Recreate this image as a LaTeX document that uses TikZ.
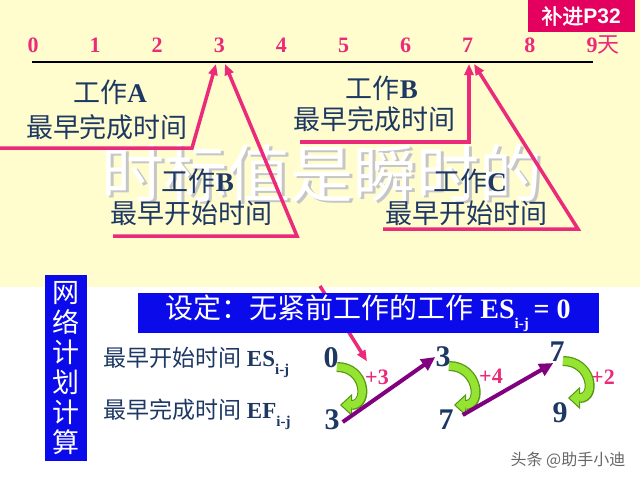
\documentclass[tikz,border=0pt]{standalone}
\usepackage{fontspec}
\setmainfont{Liberation Serif}
\newfontfamily\cjk{Noto Sans CJK SC}
\newfontfamily\cjkbold[FakeBold=2]{Noto Sans CJK SC}
\newfontfamily\tagsans{Liberation Sans}
\usetikzlibrary{arrows.meta,positioning}

\definecolor{paper}{RGB}{255,253,206}
\definecolor{rosy}{RGB}{236,42,122}
\definecolor{ink}{RGB}{30,56,100}
\definecolor{bannerblue}{RGB}{10,10,235}
\definecolor{tagred}{RGB}{228,0,94}
\definecolor{leaf}{RGB}{150,228,50}
\definecolor{leafdark}{RGB}{85,150,20}
\definecolor{grape}{RGB}{128,0,128}

\newcommand{\idx}[1]{\raisebox{-0.35em}{\fontsize{15}{15}\selectfont\bfseries #1}}

\tikzstyle{tick} = [text=rosy, inner sep=0, font=\fontsize{22}{24}\selectfont\bfseries]
\tikzstyle{note} = [text=ink, inner sep=0, font=\fontsize{27}{30}\selectfont]
\tikzstyle{rowtext} = [text=ink, inner sep=0, anchor=west, font=\fontsize{23}{26}\selectfont]
\tikzstyle{num} = [text=ink, inner sep=0, font=\fontsize{30}{32}\selectfont\bfseries]
\tikzstyle{plus} = [text=rosy, inner sep=0, font=\fontsize{22}{24}\selectfont\bfseries]
\tikzstyle{pinkline} = [draw=rosy, line width=3.5pt, -{Triangle[length=11pt,width=9pt]}]
\tikzstyle{purpleline} = [draw=grape, line width=4pt, -{Triangle[length=14pt,width=13pt]}]
\tikzstyle{leafout} = [draw=leafdark, line width=10pt, -{Triangle[length=12pt,width=22pt,fill=leaf,line width=1pt]}]
\tikzstyle{leafin} = [draw=leaf, line width=7.5pt, shorten >=11pt]

\begin{document}
\begin{tikzpicture}[x=1pt,y=-1pt]
\useasboundingbox (0,0) rectangle (640,479);
\fill[paper] (0,0) rectangle (640,287);

% watermark across the middle
\node[font=\cjk\fontsize{63}{63}\selectfont, text=gray!45] (shade) at (324.5,175.5) {时标值是瞬时的};
\node[font=\cjk\fontsize{63}{63}\selectfont, text=white] (mark) at (322,173) {时标值是瞬时的};

% tag
\node[fill=tagred, text=white, minimum width=107pt, minimum height=32pt, inner sep=0] (tag) at (581,16) {{\cjkbold\fontsize{21}{23}\selectfont 补进}{\tagsans\bfseries\fontsize{21}{23}\selectfont P32}};

% time axis
\coordinate (l0) at (32,62);
\coordinate (l9) at (593,62);
\draw[line width=2.5pt] (l0) -- (l9);
\foreach \i in {0,...,8}
  \node[tick] (t\i) at ({33+62.1*\i},45) {\i};
\node[tick] (t9) at (603,45) {9{\cjk\mdseries 天}};

% labels
\node[note] (fa) at (110,92) {{\cjk 工作}\textbf{A}};
\node[note, below of = fa, node distance=35pt, xshift=-3pt] (fa2) {\cjk 最早完成时间};
\node[note] (fb) at (382,88) {{\cjk 工作}\textbf{B}};
\node[note, below of = fb, node distance=31pt, xshift=-8pt] (fb2) {\cjk 最早完成时间};
\node[note] (sb) at (198,181) {{\cjk 工作}\textbf{B}};
\node[note, below of = sb, node distance=32pt, xshift=-7pt] (sb2) {\cjk 最早开始时间};
\node[note] (sc) at (470,181) {{\cjk 工作}\textbf{C}};
\node[note, below of = sc, node distance=32pt, xshift=-4pt] (sc2) {\cjk 最早开始时间};

% pink pointers to the axis
\coordinate (aS) at (0,148);   \coordinate (aK) at (192,148); \coordinate (aT) at (216,64);
\coordinate (bS) at (113,236); \coordinate (bK) at (297,236); \coordinate (bT) at (225,64);
\coordinate (cS) at (300,142); \coordinate (cK) at (469,142); \coordinate (cT) at (469,64);
\coordinate (dS) at (383,229); \coordinate (dK) at (578,229); \coordinate (dT) at (474,64);
\draw[pinkline] (aS) -- (aK) -- (aT);
\draw[pinkline] (bS) -- (bK) -- (bT);
\draw[pinkline] (cS) -- (cK) -- (cT);
\draw[pinkline] (dS) -- (dK) -- (dT);

% lower part
\node[plus] (p1) at (377,377) {+3};
\node[plus] (p2) at (491,376) {+4};
\node[plus] (p3) at (603,377) {+2};
\coordinate (hint) at (320,286);
\draw[pinkline] (hint) -- ([shift={(2,-8)}]p1.north west);

\node[fill=bannerblue, text=white, minimum width=42pt, minimum height=186pt, inner sep=0, align=center,
  font=\cjk\fontsize{27}{30}\selectfont] (side) at (66,368) {网\\络\\计\\划\\计\\算};
\node[fill=bannerblue, text=white, minimum width=461pt, minimum height=40pt, inner sep=0,
  font=\fontsize{28}{30}\selectfont] (rule) at (368,313)
  {{\cjk 设定：无紧前工作的工作} \textbf{ES}\idx{i-j}\,\textbf{= 0}};

\node[rowtext] (esrow) at (103,362) {{\cjk 最早开始时间} \textbf{ES}\idx{i-j}};
\node[rowtext] (efrow) at (103,414) {{\cjk 最早完成时间} \textbf{EF}\idx{i-j}};

\node[num] (es1) at (331,358) {0};
\node[num] (ef1) at (332,420) {3};
\node[num] (es2) at (443,357) {3};
\node[num] (ef2) at (446,420) {7};
\node[num] (es3) at (557,352) {7};
\node[num] (ef3) at (560,413) {9};

% green turn arrows
\foreach \a/\b in {es1/ef1, es2/ef2, es3/ef3} {
  \draw[leafout] ([shift={(6,9)}]\a.center) .. controls +(29,0) and +(29,0) .. ([shift={(8,-15)}]\b.center);
  \draw[leafin] ([shift={(6,9)}]\a.center) .. controls +(29,0) and +(29,0) .. ([shift={(8,-15)}]\b.center);
}

% purple arrows
\draw[purpleline] ([shift={(3,2)}]ef1.east) -- (es2.west);
\draw[purpleline] ([shift={(9,-5)}]ef2.east) -- ([shift={(4,11)}]es3.west);

\node[text=gray!80!black, font=\cjk\fontsize{16}{18}\selectfont, inner sep=0] (credit) at (568,460) {头条 @助手小迪};
\end{tikzpicture}
\end{document}
